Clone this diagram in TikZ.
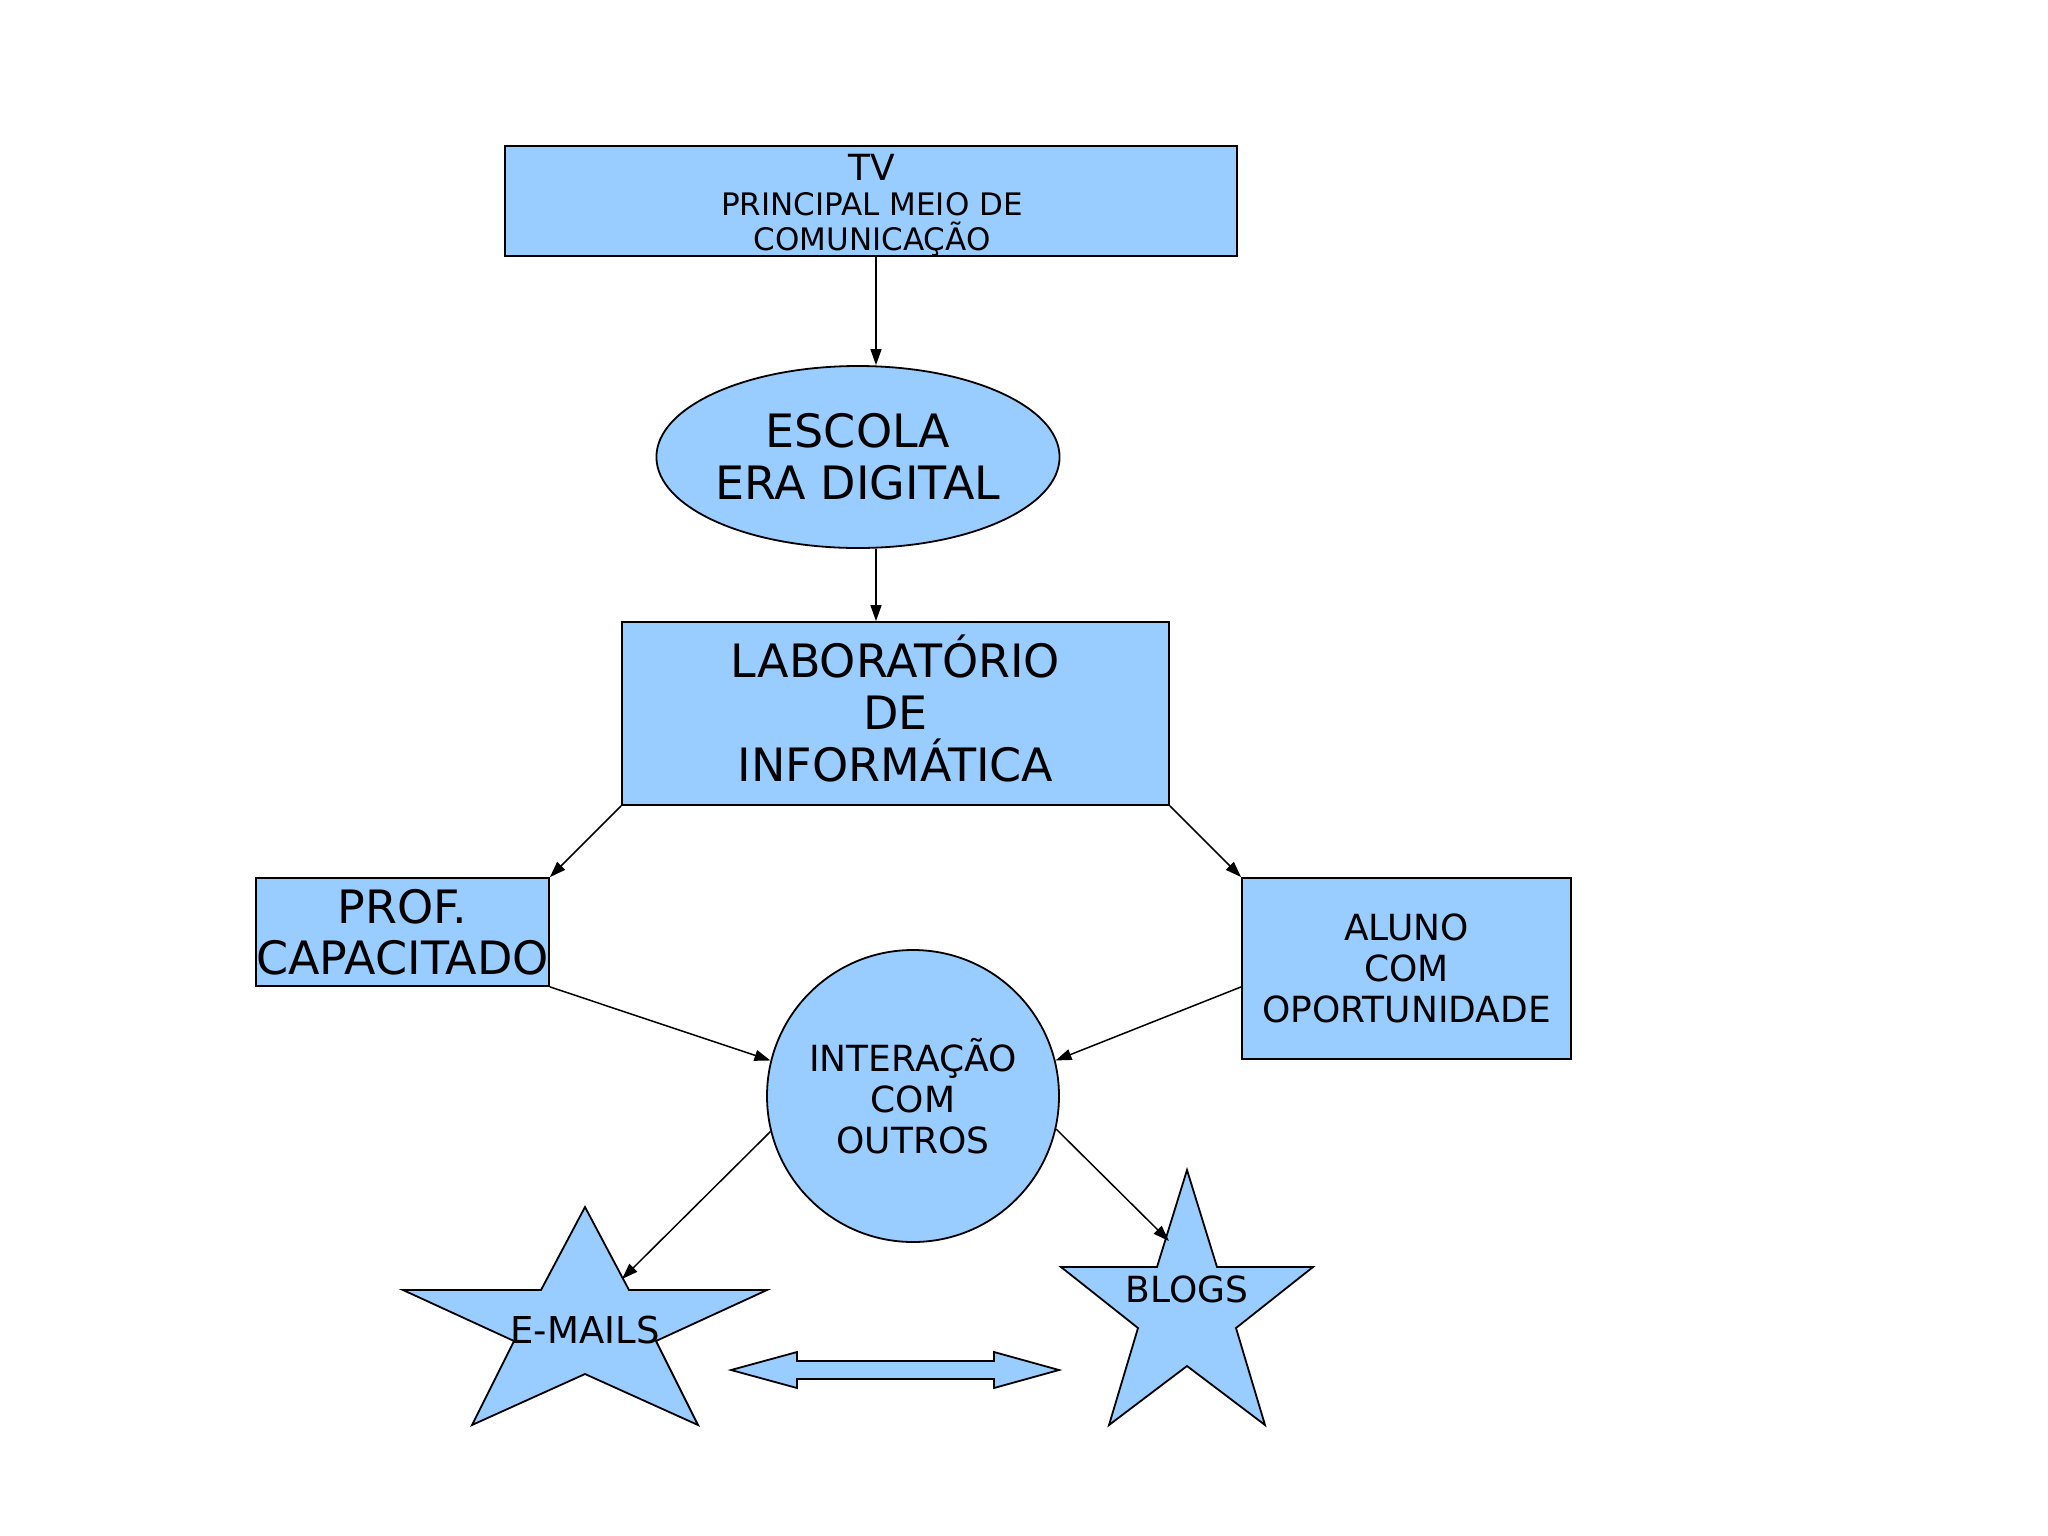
\documentclass[tikz,border=0pt]{standalone}
\usepackage{fontspec}
\setmainfont{DejaVu Sans}
\usetikzlibrary{arrows.meta,shapes.geometric}
\definecolor{fillb}{HTML}{99CCFF}
\tikzset{
  box/.style={draw=black, fill=fillb, line width=1.8pt, rectangle, inner sep=0pt, align=center},
  arr/.style={draw=black, line width=1.5pt, -{Triangle[length=16pt,width=11pt]}},
  shapefill/.style={draw=black, fill=fillb, line width=1.8pt, line join=miter},
  f36/.style={font=\fontsize{36}{41}\selectfont},
  f45/.style={font=\fontsize{46}{52}\selectfont},
}
\begin{document}
\begin{tikzpicture}[x=1pt,y=-1pt]
\useasboundingbox[fill=white] (0,0) rectangle (2048,1535);

% TV box
\node[box, minimum width=732pt, minimum height=110pt] (tv) at (871,201) {};
\node[align=center, inner sep=0pt, font=\fontsize{31}{35}\selectfont] (tvtext) at (872,205)
  {{\fontsize{36}{38}\selectfont TV}\\PRINCIPAL MEIO DE\\COMUNICAÇÃO};
\coordinate (axis) at (876,0);

% Escola ellipse
\node[ellipse, draw=black, fill=fillb, line width=1.8pt, minimum width=402pt, minimum height=182pt, inner sep=0pt, align=center, f45] (esc) at (858,457)
  {ESCOLA\\ERA DIGITAL};

% Laboratorio
\node[box, minimum width=547pt, minimum height=183pt] (lab) at (895.5,713.5) {};
\node[align=center, inner sep=0pt, f45] (labtext) at (895.5,708.5)
  {LABORATÓRIO\\DE\\INFORMÁTICA};

% Prof
\node[box, minimum width=293pt, minimum height=108pt, font=\fontsize{46}{51}\selectfont] (prof) at (402.5,932)
  {PROF.\\CAPACITADO};

% Aluno
\node[box, minimum width=329pt, minimum height=181pt, f36] (aluno) at (1406.5,968.5)
  {ALUNO\\COM\\OPORTUNIDADE};

% Interacao circle
\node[circle, draw=black, fill=fillb, line width=1.8pt, minimum size=292pt, inner sep=0pt, align=center, f36] (circ) at (913,1096)
  {INTERAÇÃO\\COM\\OUTROS};

% E-mails star
\filldraw[shapefill] (585,1207) -- (629,1290) -- (767,1290) -- (656,1341) -- (698,1425) -- (585,1374)
  -- (472,1425) -- (514,1341) -- (403,1290) -- (541,1290) -- cycle;
\node[font=\fontsize{37}{41}\selectfont, inner sep=0pt] (emails) at (585,1330) {E-MAILS};
\coordinate (emailin) at (622,1279);

% Blogs star
\filldraw[shapefill] (1187,1170) -- (1217,1267) -- (1313,1267) -- (1236,1328) -- (1265,1425) -- (1187,1366)
  -- (1109,1425) -- (1138,1328) -- (1061,1267) -- (1157,1267) -- cycle;
\node[f36, inner sep=0pt] (blogs) at (1187,1289) {BLOGS};
\coordinate (blogsin) at (1169,1241);

% double arrow
\filldraw[shapefill] (731,1370) -- (797,1352) -- (797,1361) -- (994,1361) -- (994,1352) -- (1059,1370)
  -- (994,1388) -- (994,1379) -- (797,1379) -- (797,1388) -- cycle;

% connectors
\draw[arr] (axis |- tv.south) -- (axis |- esc.north);
\draw[arr] (axis |- esc.south) -- (axis |- lab.north);
\draw[arr] (lab.south west) -- (prof.north east);
\draw[arr] (lab.south east) -- (aluno.north west);
\draw[arr] (prof.south east) -- (circ.166);
\draw[arr] (aluno.west |- prof.south) -- (circ.14);
\draw[arr] (circ.194) -- (emailin);
\draw[arr] (circ.-13) -- (blogsin);
\end{tikzpicture}
\end{document}
